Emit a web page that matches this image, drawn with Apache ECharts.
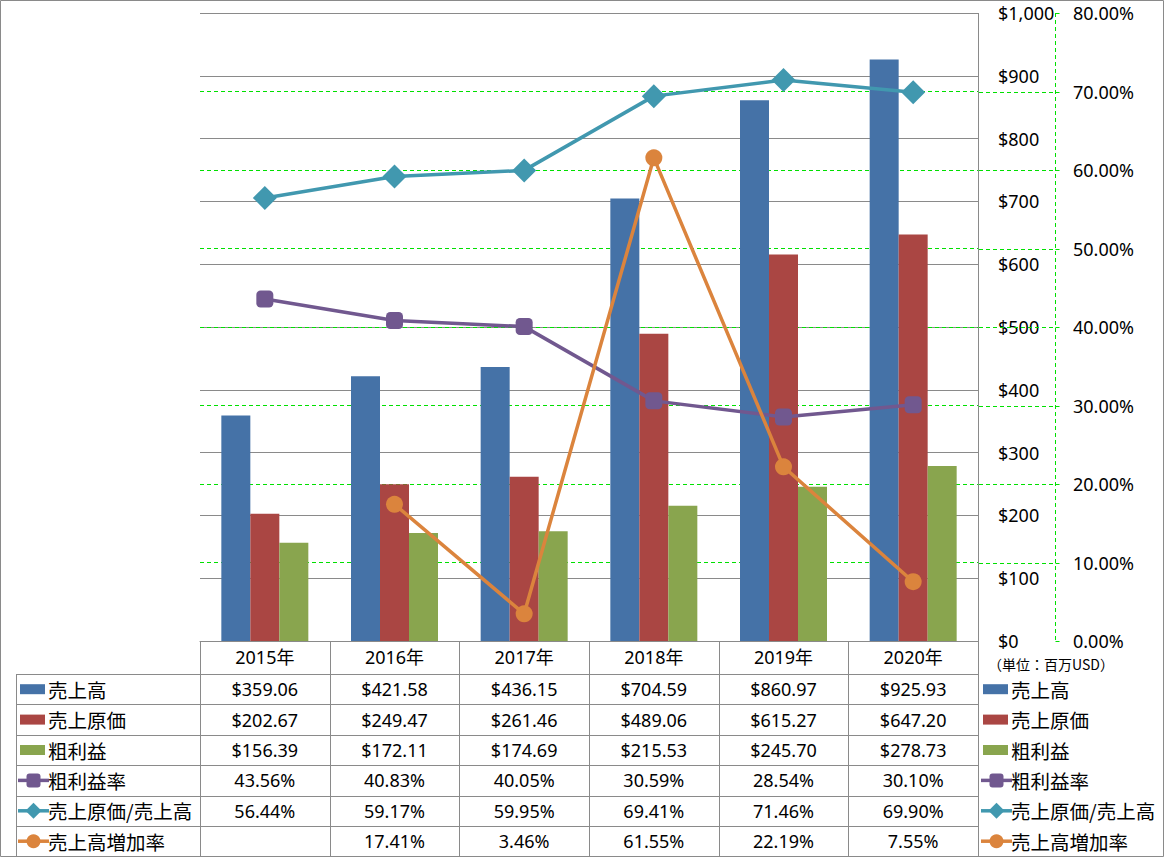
<!DOCTYPE html>
<html><head><meta charset="utf-8">
<script src="https://cdn.jsdelivr.net/npm/echarts@6/dist/echarts.min.js"></script>
<style>html,body{margin:0;padding:0;background:#fff}#c{width:1165px;height:858px}</style>
</head><body><div id="c"></div>
<script>
// ---- data ----
const categories = ['2015年', '2016年', '2017年', '2018年', '2019年', '2020年'];
const sales = [359.06, 421.58, 436.15, 704.59, 860.97, 925.93];
const costOfSales = [202.67, 249.47, 261.46, 489.06, 615.27, 647.20];
const grossProfit = [156.39, 172.11, 174.69, 215.53, 245.70, 278.73];
const grossMargin = [43.56, 40.83, 40.05, 30.59, 28.54, 30.10];
const costRatio = [56.44, 59.17, 59.95, 69.41, 71.46, 69.90];
const salesGrowth = [null, 17.41, 3.46, 61.55, 22.19, 7.55];
const seriesNames = ['売上高', '売上原価', '粗利益', '粗利益率', '売上原価/売上高', '売上高増加率'];
const pctGridValues = [10, 20, 30, 40, 50, 60, 70];
const unitLabel = '（単位：百万USD）';

// ---- style / layout ----
const FONT = '"Noto Sans", "Noto Sans CJK JP", sans-serif';
const JFONT = '"Noto Sans CJK JP", "Noto Sans", sans-serif';
const colors = ['#4572A7', '#AA4643', '#89A54E', '#71588F', '#4198AF', '#DB843D'];
const GRAY = '#8a8a8a';
const GREEN = '#00e000';
const L = 200, R = 978, T = 13, B = 641;
const W = 1165, H = 858;
const PCT_OFFSET = 77;
const rowTop = 674, rowH = 30.4, tableBottom = 856, legendLeft = 16;
const NUM_SIZE = 18, LEG_SIZE = 19.5;

const chart = echarts.init(document.getElementById('c'), null, {renderer: 'svg'});

const barData = [sales, costOfSales, grossProfit];
const lineData = [grossMargin, costRatio, salesGrowth];
const symbols = ['roundRect', 'diamond', 'circle'];
const symbolSizes = [17, 24, 17];

const series = [];
barData.forEach((d, i) => series.push({
  type: 'bar', name: seriesNames[i], data: d, yAxisIndex: 0,
  barWidth: 29, barGap: '0%', itemStyle: {color: colors[i]}, z: 2
}));
lineData.forEach((d, i) => series.push({
  type: 'line', name: seriesNames[3 + i], data: d, yAxisIndex: 1,
  symbol: symbols[i], symbolSize: symbolSizes[i], showAllSymbol: true,
  itemStyle: {color: colors[3 + i], borderWidth: 0},
  lineStyle: {color: colors[3 + i], width: 3.5}, z: 5 + i
}));

const option = {
  animation: false,
  backgroundColor: '#fff',
  grid: {left: L, right: W - R, top: T, bottom: H - B, containLabel: false},
  xAxis: {
    type: 'category', data: categories, boundaryGap: true,
    axisLine: {show: true, lineStyle: {color: GRAY, width: 1}},
    axisTick: {show: false},
    axisLabel: {color: '#000', fontSize: NUM_SIZE, fontFamily: FONT, margin: 16, verticalAlign: 'middle'},
    splitLine: {show: false}
  },
  yAxis: [
    {
      type: 'value', position: 'right', min: 0, max: 1000, interval: 100,
      axisLine: {show: false}, axisTick: {show: false},
      axisLabel: {color: '#000', fontSize: NUM_SIZE, fontFamily: FONT, margin: 20,
        formatter: v => '$' + v.toLocaleString('en-US')},
      splitLine: {show: true, lineStyle: {color: GRAY, width: 1}}
    },
    {
      type: 'value', position: 'right', offset: PCT_OFFSET, min: 0, max: 80, interval: 10,
      axisLine: {show: false},
      axisTick: {show: false},
      axisLabel: {color: '#000', fontSize: NUM_SIZE, fontFamily: FONT, margin: 18,
        formatter: v => v.toFixed(2) + '%'},
      splitLine: {show: true, showMinLine: false, showMaxLine: false,
        lineStyle: {color: GREEN, width: 1, type: [4, 3]}}
    }
  ],
  series: series
};
chart.setOption(option);

// ---- graphic: percent axis line, grid extensions, data table, legend keys ----
const g = [];
const line = (x1, y1, x2, y2, stroke, dash) => g.push({type: 'line', silent: true, z: 50,
  shape: {x1, y1, x2, y2}, style: {stroke: stroke || GRAY, lineWidth: 1, lineDash: dash || null}});
const text = (t, x, y, align, size, font) => g.push({type: 'text', silent: true, z: 60,
  style: {text: t, x, y, align: align, verticalAlign: 'middle', fill: '#000', fontSize: size, fontFamily: font}});

// percent axis (green dashed) + extensions of its grid lines + small outer ticks
const AX = R + PCT_OFFSET + 0.5;
line(AX, T, AX, B, GREEN, [4, 3]);
[0].concat(pctGridValues, [80]).forEach(v => {
  const y = Math.round(chart.convertToPixel({yAxisIndex: 1}, v)) + 0.5;
  line(AX, y, AX + 4, y, GREEN);
  if (pctGridValues.indexOf(v) >= 0) line(R + 1, y, AX, y, GREEN, [4, 3]);
});

const rowY = i => rowTop + rowH * i;
for (let i = 0; i <= 5; i++) line(legendLeft, Math.round(rowY(i)) + 0.5, R + 0.5, Math.round(rowY(i)) + 0.5);
const colW = (R - L) / categories.length;
line(legendLeft + 0.5, rowTop, legendLeft + 0.5, tableBottom);
for (let c = 0; c < categories.length; c++) {
  const x = Math.round(L + colW * c) + 0.5;
  line(x, B, x, tableBottom);
}
line(R + 0.5, T, R + 0.5, tableBottom);
g.push({type: 'rect', silent: true, z: 50, shape: {x: 0.5, y: 0.5, width: W - 2, height: tableBottom},
  style: {fill: 'none', stroke: GRAY, lineWidth: 1}});

const fmtMoney = v => '$' + v.toFixed(2);
const fmtPct = v => v == null ? '' : v.toFixed(2) + '%';
const tableRows = [
  [sales, fmtMoney], [costOfSales, fmtMoney], [grossProfit, fmtMoney],
  [grossMargin, fmtPct], [costRatio, fmtPct], [salesGrowth, fmtPct]
];
tableRows.forEach(([arr, fmt], r) => {
  const cy = rowY(r) + rowH / 2;
  arr.forEach((v, c) => {
    const cx = chart.convertToPixel({xAxisIndex: 0}, c);
    text(fmt(v), cx, cy, 'center', NUM_SIZE, FONT);
  });
});

function legendKey(i, x0, cy) {
  if (i < 3) {
    g.push({type: 'rect', silent: true, z: 55, shape: {x: x0, y: cy - 5, width: 25, height: 10},
      style: {fill: colors[i]}});
  } else {
    const col = colors[i];
    const cx = x0 + 13.5;
    g.push({type: 'line', silent: true, z: 55, shape: {x1: x0 - 2, y1: cy, x2: x0 + 29, y2: cy},
      style: {stroke: col, lineWidth: 3.5}});
    if (i === 3) g.push({type: 'rect', silent: true, z: 56, shape: {x: cx - 7, y: cy - 7, width: 14, height: 14, r: 3}, style: {fill: col}});
    if (i === 4) g.push({type: 'polygon', silent: true, z: 56, shape: {points: [[cx, cy - 8], [cx + 8, cy], [cx, cy + 8], [cx - 8, cy]]}, style: {fill: col}});
    if (i === 5) g.push({type: 'circle', silent: true, z: 56, shape: {cx: cx, cy: cy, r: 7}, style: {fill: col}});
  }
}
seriesNames.forEach((name, i) => {
  const cy = rowY(i) + rowH / 2;
  legendKey(i, 20, cy);
  text(name, 48, cy, 'left', LEG_SIZE, JFONT);
  legendKey(i, 983, cy);
  text(name, 1011, cy, 'left', LEG_SIZE, JFONT);
});

text(unitLabel, 988, 664, 'left', 14, JFONT);

chart.setOption({graphic: {elements: g}});
</script>
</body></html>
